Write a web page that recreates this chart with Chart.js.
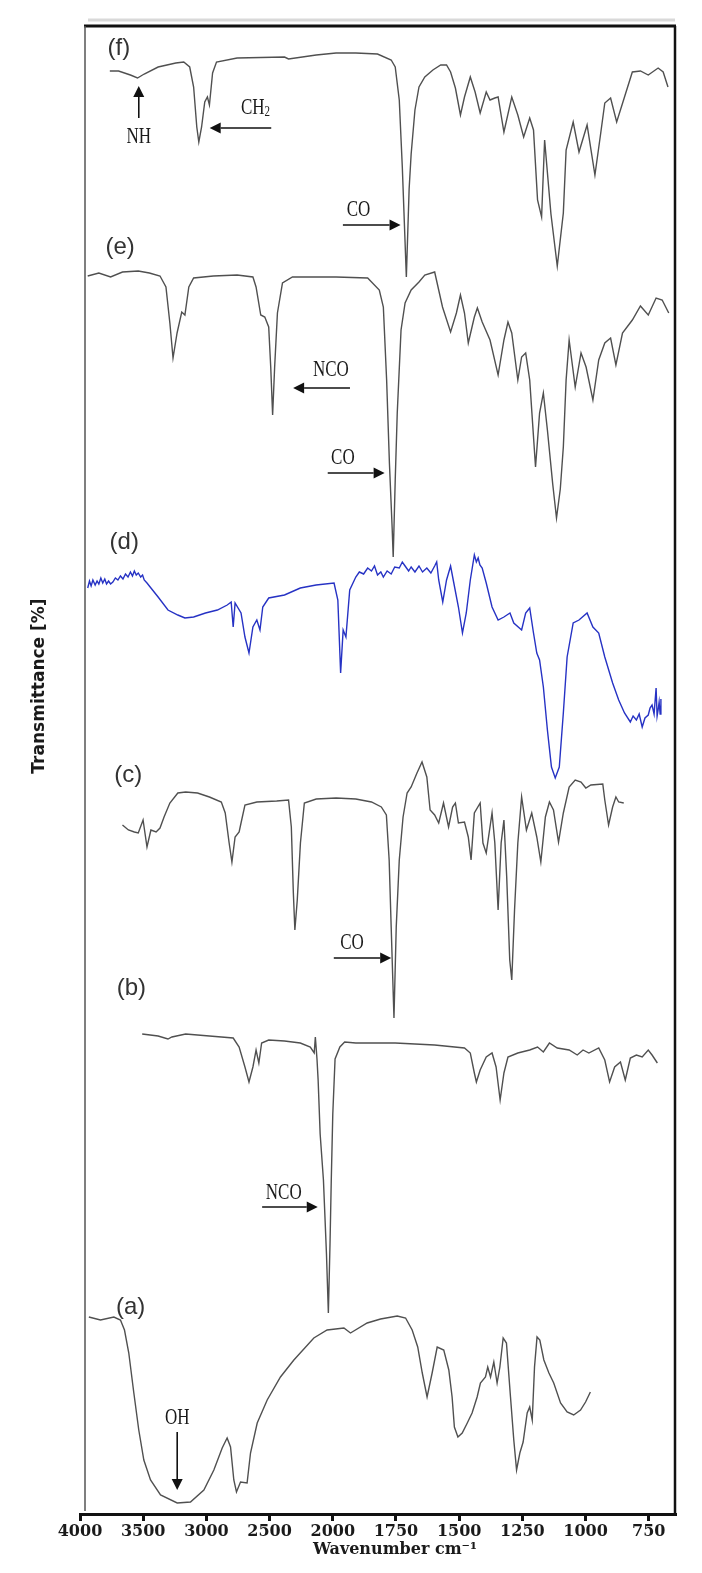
<!DOCTYPE html>
<html>
<head>
<meta charset="utf-8">
<script src="https://cdn.jsdelivr.net/npm/chart.js@4.4.1/dist/chart.umd.min.js"></script>
<style>
  html, body { margin: 0; padding: 0; background: #fff; }
  canvas { display: block; }
</style>
</head>
<body>
<canvas id="ftir" width="702" height="1573"></canvas>
<script>
// wavenumber ticks; the axis is 500 cm-1 per division above 2000 and 250 below
const tickLabels = [4000, 3500, 3000, 2500, 2000, 1750, 1500, 1250, 1000, 750];

// spectra from top (f) to bottom (a); transmittance already carries the stacking offset
const waveF = [3764, 3695, 3601, 3545, 3492, 3382, 3242, 3179, 3132, 3101, 3076, 3060, 3038, 3013, 2992, 2976, 2951, 2920, 2757, 2382, 2350, 2131, 1987, 1909, 1823, 1769, 1753, 1737, 1725, 1709, 1698, 1690, 1675, 1659, 1636, 1604, 1573, 1550, 1534, 1515, 1495, 1479, 1456, 1437, 1417, 1393, 1378, 1359, 1346, 1323, 1292, 1268, 1245, 1221, 1206, 1190, 1174, 1162, 1137, 1112, 1088, 1077, 1049, 1026, 994, 963, 940, 924, 901, 877, 846, 815, 783, 752, 713, 693, 674];
const transF = [144.3, 144.3, 143.9, 143.6, 144.0, 144.7, 145.1, 145.2, 144.7, 142.7, 138.7, 137.2, 138.7, 141.2, 141.7, 140.9, 144.1, 145.2, 145.6, 145.7, 145.5, 145.9, 146.1, 146.1, 146.0, 145.4, 144.7, 141.4, 134.7, 123.7, 132.5, 136.0, 140.4, 142.7, 143.7, 144.4, 144.9, 144.9, 144.2, 142.6, 139.9, 141.7, 143.7, 142.2, 140.1, 142.2, 141.4, 141.6, 141.7, 138.2, 141.7, 139.9, 137.7, 139.6, 138.4, 131.4, 129.7, 137.4, 130.0, 124.8, 130.1, 136.4, 139.2, 136.2, 138.9, 133.9, 138.1, 141.1, 141.6, 139.2, 141.7, 144.2, 144.3, 143.9, 144.6, 144.2, 142.7];

const waveE = [3939, 3851, 3758, 3664, 3539, 3451, 3367, 3320, 3289, 3264, 3232, 3195, 3170, 3139, 3101, 2945, 2757, 2632, 2607, 2570, 2538, 2507, 2491, 2476, 2460, 2438, 2398, 2319, 2132, 1987, 1862, 1816, 1800, 1787, 1776, 1765, 1761, 1753, 1745, 1730, 1714, 1690, 1659, 1636, 1597, 1566, 1534, 1511, 1495, 1479, 1464, 1440, 1428, 1409, 1378, 1346, 1323, 1307, 1292, 1268, 1253, 1237, 1221, 1198, 1182, 1167, 1151, 1130, 1115, 1100, 1088, 1077, 1065, 1041, 1018, 998, 971, 948, 924, 901, 880, 854, 815, 783, 752, 721, 697, 671];
const transE = [123.8, 124.1, 123.7, 124.2, 124.3, 124.1, 123.8, 122.7, 119.1, 115.6, 118.1, 120.2, 119.9, 122.7, 123.6, 123.8, 123.9, 123.7, 122.7, 119.9, 119.7, 118.7, 114.7, 109.9, 114.7, 120.1, 123.1, 123.7, 123.7, 123.7, 123.6, 122.4, 120.7, 113.4, 105.1, 98.5, 95.7, 103.4, 110.1, 118.4, 121.1, 122.4, 123.2, 123.9, 124.2, 120.7, 118.2, 120.1, 121.9, 120.1, 117.1, 119.7, 120.6, 119.2, 117.4, 113.9, 117.4, 119.2, 118.1, 113.4, 115.7, 116.1, 113.4, 104.7, 110.1, 112.1, 108.4, 103.0, 99.6, 102.5, 106.7, 113.4, 117.4, 112.7, 116.1, 114.7, 111.4, 115.4, 117.1, 117.6, 114.9, 118.1, 119.4, 120.8, 119.9, 121.6, 121.4, 120.1];

const waveD = [3939, 3925, 3912, 3898, 3880, 3865, 3851, 3835, 3820, 3804, 3790, 3774, 3758, 3740, 3720, 3700, 3680, 3660, 3640, 3620, 3601, 3585, 3570, 3555, 3539, 3520, 3505, 3492, 3470, 3445, 3382, 3304, 3226, 3170, 3101, 3007, 2913, 2835, 2804, 2788, 2773, 2726, 2695, 2663, 2632, 2601, 2576, 2554, 2507, 2382, 2257, 2132, 1995, 1980, 1969, 1959, 1948, 1933, 1909, 1895, 1878, 1862, 1847, 1835, 1823, 1810, 1800, 1785, 1769, 1755, 1737, 1725, 1714, 1700, 1690, 1675, 1659, 1645, 1628, 1612, 1597, 1589, 1581, 1565, 1550, 1534, 1522, 1503, 1487, 1472, 1456, 1440, 1432, 1425, 1418, 1409, 1393, 1370, 1346, 1323, 1299, 1284, 1253, 1237, 1221, 1206, 1193, 1182, 1167, 1151, 1135, 1120, 1104, 1088, 1073, 1049, 1026, 994, 971, 948, 924, 893, 869, 846, 823, 812, 799, 788, 776, 765, 752, 745, 737, 729, 721, 717, 713, 709, 705, 702];
const transD = [92.6, 93.3, 92.8, 93.4, 92.9, 93.3, 93.0, 93.6, 93.1, 93.5, 93.0, 93.3, 93.0, 93.2, 93.6, 93.4, 93.8, 93.5, 94.0, 93.7, 94.2, 93.8, 94.3, 93.9, 94.1, 93.7, 93.9, 93.4, 93.1, 92.7, 91.7, 90.4, 89.9, 89.6, 89.7, 90.1, 90.4, 90.9, 91.2, 88.7, 91.1, 90.1, 87.7, 86.1, 88.7, 89.4, 88.4, 90.7, 91.6, 91.9, 92.6, 92.9, 93.1, 91.4, 84.1, 88.4, 87.7, 92.4, 93.7, 94.2, 94.0, 94.6, 94.3, 94.8, 93.9, 94.2, 93.7, 94.3, 94.0, 94.7, 94.6, 95.2, 94.8, 94.3, 94.7, 94.2, 94.8, 94.2, 94.6, 94.1, 94.8, 95.2, 93.4, 91.2, 93.4, 94.8, 93.2, 90.7, 88.1, 90.1, 93.4, 95.9, 95.2, 95.6, 94.9, 94.6, 93.1, 90.7, 89.4, 89.7, 90.1, 89.1, 88.4, 90.1, 90.6, 88.1, 86.1, 85.4, 82.7, 78.4, 74.7, 73.6, 74.7, 80.1, 85.7, 89.1, 89.4, 90.1, 88.7, 88.1, 85.7, 83.1, 81.4, 80.1, 79.2, 79.8, 79.4, 80.0, 78.7, 79.6, 79.9, 80.6, 80.9, 80.0, 82.6, 79.8, 80.4, 81.2, 80.0, 81.5];

const waveC = [3664, 3617, 3570, 3539, 3501, 3470, 3439, 3398, 3367, 3335, 3289, 3226, 3164, 3070, 2976, 2882, 2851, 2820, 2798, 2773, 2741, 2726, 2695, 2601, 2444, 2350, 2328, 2312, 2300, 2281, 2256, 2225, 2131, 1987, 1909, 1847, 1808, 1788, 1777, 1769, 1758, 1749, 1737, 1722, 1706, 1690, 1667, 1647, 1628, 1615, 1597, 1581, 1562, 1542, 1526, 1515, 1503, 1479, 1464, 1453, 1440, 1417, 1406, 1393, 1370, 1359, 1346, 1334, 1323, 1312, 1300, 1292, 1281, 1268, 1253, 1234, 1213, 1193, 1177, 1159, 1143, 1127, 1107, 1088, 1065, 1041, 1018, 999, 979, 932, 924, 909, 893, 880, 869, 849];
const transC = [68.9, 68.4, 68.2, 68.1, 69.4, 66.7, 68.4, 68.2, 68.6, 69.7, 71.1, 72.1, 72.2, 72.1, 71.7, 71.2, 70.1, 67.1, 65.2, 67.7, 68.2, 69.1, 70.9, 71.2, 71.3, 71.4, 68.7, 62.1, 58.4, 61.4, 67.1, 71.1, 71.5, 71.6, 71.5, 71.2, 70.7, 69.9, 65.4, 58.7, 49.6, 58.7, 65.4, 69.7, 72.1, 72.7, 74.1, 75.2, 73.7, 70.4, 69.9, 69.1, 71.1, 68.7, 70.7, 71.1, 69.1, 69.2, 67.7, 65.4, 70.1, 71.1, 67.1, 66.1, 70.1, 67.1, 60.4, 67.1, 69.4, 63.7, 55.4, 53.4, 60.4, 67.1, 71.7, 68.4, 70.1, 67.7, 65.2, 69.7, 71.2, 70.4, 67.2, 70.1, 72.7, 73.4, 73.2, 72.6, 72.9, 73.0, 71.4, 68.9, 70.7, 71.7, 71.2, 71.1];

const waveB = [3508, 3382, 3304, 3273, 3164, 2976, 2788, 2741, 2695, 2663, 2632, 2607, 2585, 2563, 2507, 2382, 2257, 2178, 2147, 2138, 2125, 2116, 2100, 2074, 2050, 2035, 2022, 2012, 2000, 1991, 1972, 1953, 1909, 1753, 1597, 1479, 1456, 1440, 1432, 1417, 1393, 1370, 1354, 1338, 1323, 1307, 1268, 1221, 1190, 1167, 1143, 1112, 1065, 1033, 1010, 987, 948, 924, 905, 885, 862, 843, 823, 799, 776, 752, 737, 716];
const transB = [48.0, 47.8, 47.5, 47.7, 48.0, 47.8, 47.6, 46.7, 44.7, 43.2, 44.7, 46.4, 45.1, 47.1, 47.4, 47.3, 47.1, 46.7, 46.1, 47.7, 45.5, 43.4, 38.0, 33.4, 26.0, 20.1, 27.0, 33.4, 40.0, 45.5, 46.7, 47.2, 47.1, 47.1, 46.9, 46.6, 46.1, 44.1, 43.2, 44.4, 45.7, 46.1, 44.7, 41.4, 44.1, 45.7, 46.1, 46.4, 46.7, 46.2, 47.1, 46.6, 46.4, 45.9, 46.4, 46.1, 46.6, 45.4, 43.2, 44.7, 45.2, 43.4, 45.6, 45.9, 45.7, 46.4, 45.9, 45.1];

const waveA = [3930, 3838, 3732, 3680, 3648, 3614, 3574, 3535, 3495, 3442, 3363, 3231, 3126, 3020, 2941, 2875, 2836, 2809, 2783, 2762, 2730, 2678, 2651, 2598, 2519, 2414, 2308, 2150, 2045, 1956, 1930, 1864, 1811, 1745, 1712, 1686, 1664, 1646, 1627, 1607, 1587, 1561, 1541, 1528, 1519, 1505, 1488, 1468, 1449, 1429, 1416, 1396, 1387, 1376, 1363, 1350, 1339, 1326, 1313, 1297, 1284, 1273, 1260, 1247, 1231, 1221, 1211, 1202, 1192, 1181, 1165, 1145, 1126, 1099, 1073, 1047, 1020, 1000, 981];
const transA = [19.7, 19.4, 19.7, 19.4, 18.4, 16.1, 12.1, 8.4, 5.4, 3.4, 1.9, 1.1, 1.2, 2.4, 4.4, 6.6, 7.6, 6.7, 3.4, 2.2, 3.2, 3.1, 6.1, 9.1, 11.4, 13.7, 15.4, 17.6, 18.4, 18.6, 18.1, 19.1, 19.5, 19.8, 19.6, 18.4, 16.7, 14.1, 11.7, 14.1, 16.7, 16.4, 14.4, 11.7, 8.7, 7.7, 8.1, 9.1, 10.1, 11.7, 13.1, 13.7, 14.7, 13.7, 15.2, 13.1, 14.7, 17.6, 17.1, 11.7, 7.4, 4.4, 6.1, 7.2, 10.1, 10.7, 9.4, 14.7, 17.7, 17.4, 15.4, 14.1, 13.1, 11.1, 10.2, 9.9, 10.4, 11.2, 12.2];

// position of a wavenumber on the (two-speed) axis, in tick divisions from 4000
const toU = (w) => (w >= 2000 ? (4000 - w) / 500 : 4 + (2000 - w) / 250);

const series = [
    { wave: waveF, trans: transF, color: '#505050' },
    { wave: waveE, trans: transE, color: '#505050' },
    { wave: waveD, trans: transD, color: '#2632c4' },
    { wave: waveC, trans: transC, color: '#505050' },
    { wave: waveB, trans: transB, color: '#505050' },
    { wave: waveA, trans: transA, color: '#505050' }
];

// annotations, placed in data units (wavenumber, transmittance)
const panelLabels = [
    { text: '(f)', w: 3693, v: 146.6 },
    { text: '(e)', w: 3682, v: 126.7 },
    { text: '(d)', w: 3650, v: 97.2 },
    { text: '(c)', w: 3619, v: 73.9 },
    { text: '(b)', w: 3593, v: 52.6 },
    { text: '(a)', w: 3600, v: 20.7 }
];
const arrows = [
    { from: [3535, 139.6], to: [3535, 142.8] },   // NH
    { from: [2487, 138.6], to: [2974, 138.6] },   // CH2
    { from: [1960, 128.9], to: [1732, 128.9] },   // CO (f)
    { from: [1932, 112.6], to: [2314, 112.6] },   // NCO (e)
    { from: [2040, 104.1], to: [1795, 104.1] },   // CO (e)
    { from: [1996, 55.6], to: [1769, 55.6] },     // CO (c)
    { from: [2559, 30.7], to: [2119, 30.7] },     // NCO (b)
    { from: [3231, 8.2], to: [3231, 2.4] }        // OH (a)
];
const bandLabels = [
    { text: 'NH', w: 3535, v: 137.7 },
    { text: 'CH', sub: '2', w: 2612, v: 140.6 },
    { text: 'CO', w: 1898, v: 130.4 },
    { text: 'NCO', w: 2015, v: 114.4 },
    { text: 'CO', w: 1960, v: 105.6 },
    { text: 'CO', w: 1924, v: 57.1 },
    { text: 'NCO', w: 2388, v: 32.1 },
    { text: 'OH', w: 3231, v: 9.6 }
];

const decorations = {
    id: 'decorations',
    afterDraw(chart) {
        const { ctx, chartArea: a, scales: { x, y } } = chart;
        const px = (w) => x.getPixelForValue(toU(w));
        const py = (v) => y.getPixelForValue(v);

        ctx.save();
        // frame round the plot
        ctx.strokeStyle = '#d9d9d9';
        ctx.lineWidth = 3;
        ctx.beginPath(); ctx.moveTo(a.left + 8, a.top - 6); ctx.lineTo(a.right, a.top - 6); ctx.stroke();
        ctx.strokeStyle = '#111';
        ctx.lineWidth = 3;
        ctx.beginPath(); ctx.moveTo(a.left + 4, a.top); ctx.lineTo(a.right + 1, a.top); ctx.stroke();
        ctx.lineWidth = 2.5;
        ctx.beginPath(); ctx.moveTo(a.right, a.top); ctx.lineTo(a.right, a.bottom); ctx.stroke();
        ctx.strokeStyle = '#555';
        ctx.lineWidth = 1.5;
        ctx.beginPath(); ctx.moveTo(a.left + 5, a.top); ctx.lineTo(a.left + 5, a.bottom - 3); ctx.stroke();

        // panel letters
        ctx.fillStyle = '#333';
        ctx.font = '24px "Liberation Sans"';
        ctx.textAlign = 'center';
        ctx.textBaseline = 'middle';
        panelLabels.forEach(l => ctx.fillText(l.text, px(l.w), py(l.v)));

        // arrows with filled heads
        ctx.strokeStyle = '#111';
        ctx.fillStyle = '#111';
        ctx.lineWidth = 1.6;
        arrows.forEach(ar => {
            const x1 = px(ar.from[0]), y1 = py(ar.from[1]);
            const x2 = px(ar.to[0]), y2 = py(ar.to[1]);
            const ang = Math.atan2(y2 - y1, x2 - x1);
            const head = 11, half = 5.5;
            const bx = x2 - head * Math.cos(ang), by = y2 - head * Math.sin(ang);
            ctx.beginPath(); ctx.moveTo(x1, y1); ctx.lineTo(bx, by); ctx.stroke();
            ctx.beginPath();
            ctx.moveTo(x2, y2);
            ctx.lineTo(bx + half * Math.sin(ang), by - half * Math.cos(ang));
            ctx.lineTo(bx - half * Math.sin(ang), by + half * Math.cos(ang));
            ctx.closePath();
            ctx.fill();
        });

        // band names, serif and a little tall like the original
        ctx.fillStyle = '#1a1a1a';
        bandLabels.forEach(l => {
            ctx.save();
            ctx.translate(px(l.w), py(l.v));
            ctx.scale(1, 1.33);
            ctx.font = '17px "Liberation Serif"';
            if (l.sub) {
                const wMain = ctx.measureText(l.text).width;
                ctx.font = '11px "Liberation Serif"';
                const wSub = ctx.measureText(l.sub).width;
                const start = -(wMain + wSub) / 2;
                ctx.textAlign = 'left';
                ctx.font = '17px "Liberation Serif"';
                ctx.fillText(l.text, start, 0);
                ctx.font = '11px "Liberation Serif"';
                ctx.fillText(l.sub, start + wMain, 3);
            } else {
                ctx.textAlign = 'center';
                ctx.fillText(l.text, 0, 0);
            }
            ctx.restore();
        });

        // axis titles
        ctx.fillStyle = '#1a1a1a';
        ctx.textAlign = 'center';
        ctx.font = 'bold 16px "DejaVu Serif"';
        ctx.fillText('Wavenumber cm\u207B\u00B9', a.left + 315, a.bottom + 36);
        ctx.translate(40, a.top + 660);
        ctx.rotate(-Math.PI / 2);
        ctx.font = 'bold 17px "DejaVu Sans"';
        ctx.fillText('Transmittance [%]', 0, 0);
        ctx.restore();
    }
};

new Chart(document.getElementById('ftir'), {
    type: 'line',
    data: {
        datasets: series.map(s => ({
            data: s.wave.map((w, i) => ({ x: toU(w), y: s.trans[i] })),
            borderColor: s.color,
            borderWidth: 1.4,
            pointRadius: 0,
            tension: 0,
            fill: false
        }))
    },
    options: {
        responsive: false,
        devicePixelRatio: 1,
        animation: false,
        layout: { padding: { left: 80, right: 27, top: 26, bottom: 0 } },
        plugins: { legend: { display: false }, tooltip: { enabled: false } },
        scales: {
            x: {
                type: 'linear',
                min: 0,
                max: 9.415,
                afterBuildTicks: (scale) => {
                    scale.ticks = tickLabels.map(w => ({ value: toU(w) }));
                },
                afterFit: (scale) => {
                    scale.height = 59;
                },
                ticks: {
                    autoSkip: false,
                    maxRotation: 0,
                    padding: 1,
                    color: '#1a1a1a',
                    font: { family: 'DejaVu Serif', size: 16, weight: 'bold' },
                    callback: (value, index) => tickLabels[index]
                },
                grid: {
                    drawOnChartArea: false,
                    drawTicks: true,
                    tickLength: 7,
                    lineWidth: 3,
                    color: '#111'
                },
                border: { display: true, color: '#111', width: 3 }
            },
            y: {
                display: false,
                min: 0,
                max: 148.8
            }
        }
    },
    plugins: [decorations]
});
</script>
</body>
</html>
